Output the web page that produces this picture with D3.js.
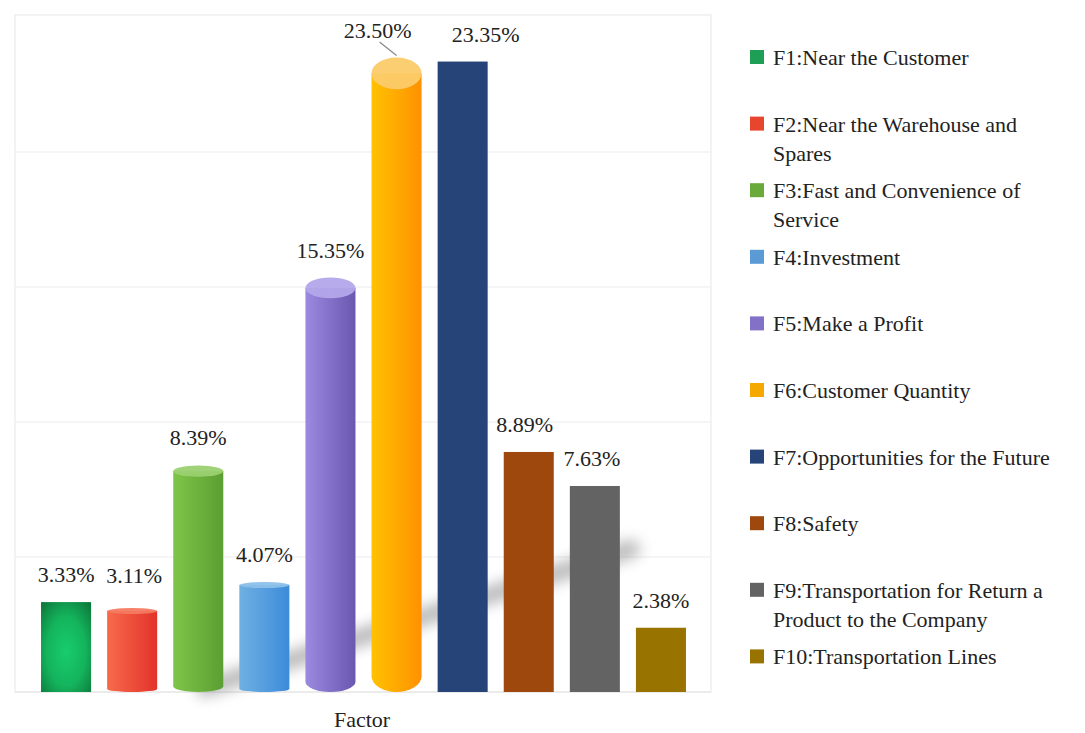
<!DOCTYPE html>
<html>
<head>
<meta charset="utf-8">
<script src="https://cdn.jsdelivr.net/npm/d3@7"></script>
<style>
  html, body { margin: 0; padding: 0; background: #fff; }
  svg { display: block; }
</style>
</head>
<body>
<svg id="chart" width="1085" height="733"></svg>
<script>
// Share of each location factor (%)
const factors = ["F1", "F2", "F3", "F4", "F5", "F6", "F7", "F8", "F9", "F10"];
const shares = [3.33, 3.11, 8.39, 4.07, 15.35, 23.50, 23.35, 8.89, 7.63, 2.38];
const legendLines = [
  ["F1:Near the Customer"],
  ["F2:Near the Warehouse and", "Spares"],
  ["F3:Fast and Convenience of", "Service"],
  ["F4:Investment"],
  ["F5:Make a Profit"],
  ["F6:Customer Quantity"],
  ["F7:Opportunities for the Future"],
  ["F8:Safety"],
  ["F9:Transportation for Return a", "Product to the Company"],
  ["F10:Transportation Lines"]
];
const gridTicks = [0, 5, 10, 15, 20, 25];
const axisTitle = "Factor";

// Bar styling: cylinders get side gradients, flat bars a plain or radial fill
const styles = [
  { kind: "flat", light: "#18cc6c", dark: "#0d7a3d", radial: true, key: "#1f9e55" },
  { kind: "cyl", light: "#f86a4c", dark: "#e2332a", top: "#f47a60", key: "#e8452f" },
  { kind: "cyl", light: "#80c54a", dark: "#5b9e32", top: "#9bd070", key: "#6aaa3a" },
  { kind: "cyl", light: "#6fb0e2", dark: "#3c8bda", top: "#8cc0ea", key: "#5b9bd5" },
  { kind: "cyl", light: "#9c89e0", dark: "#6a58b0", top: "#b4a6ea", key: "#8371c8" },
  { kind: "cyl", light: "#ffc200", dark: "#ff9100", top: "#fccb6a", key: "#f5a800" },
  { kind: "flat", light: "#264478", dark: "#264478", key: "#264478" },
  { kind: "flat", light: "#9e480e", dark: "#9e480e", key: "#9e480e" },
  { kind: "flat", light: "#636363", dark: "#636363", key: "#636363" },
  { kind: "flat", light: "#997300", dark: "#997300", key: "#997300" }
];

const FONT = "Liberation Serif";
const svg = d3.select("#chart");
const plot = { left: 15, right: 711, top: 15, bottom: 692 };

const x = d3.scaleBand().domain(factors).range([33, 694]).padding(0);
const barW = x.bandwidth() * 0.757;
const y = d3.scaleLinear().domain([0, 25]).range([plot.bottom, 17]);

const defs = svg.append("defs");
styles.forEach((s, i) => {
  if (s.radial) {
    const g = defs.append("radialGradient").attr("id", "g" + i)
      .attr("cx", "50%").attr("cy", "55%").attr("r", "70%");
    g.append("stop").attr("offset", "0%").attr("stop-color", s.light);
    g.append("stop").attr("offset", "55%").attr("stop-color", "#14b45c");
    g.append("stop").attr("offset", "100%").attr("stop-color", s.dark);
  } else {
    const g = defs.append("linearGradient").attr("id", "g" + i)
      .attr("x1", "0%").attr("x2", "100%").attr("y1", "0%").attr("y2", "0%");
    g.append("stop").attr("offset", "0%").attr("stop-color", s.light);
    g.append("stop").attr("offset", "100%").attr("stop-color", s.dark);
  }
});
defs.append("filter").attr("id", "soft").attr("x", "-20%").attr("y", "-50%")
  .attr("width", "140%").attr("height", "200%")
  .append("feGaussianBlur").attr("stdDeviation", 7);

// Frame and gridlines
svg.append("rect")
  .attr("x", plot.left).attr("y", plot.top)
  .attr("width", plot.right - plot.left).attr("height", plot.bottom - plot.top)
  .attr("fill", "#fff").attr("stroke", "#ececec").attr("stroke-width", 1.2);

svg.append("g").selectAll("line").data(gridTicks.slice(1, -1)).join("line")
  .attr("x1", plot.left).attr("x2", plot.right)
  .attr("y1", d => y(d)).attr("y2", d => y(d))
  .attr("stroke", "#ebebeb").attr("stroke-width", 1.2);
svg.append("line")
  .attr("x1", plot.left).attr("x2", plot.right)
  .attr("y1", y(0)).attr("y2", y(0))
  .attr("stroke", "#e4e4e4").attr("stroke-width", 1.2);

// Soft cast shadow behind the bars
svg.append("line")
  .attr("x1", x("F3") + x.bandwidth() * 0.6).attr("y1", y(0) - 4)
  .attr("x2", x("F9") + x.bandwidth() * 1.05).attr("y2", y(5.3))
  .attr("stroke", "#8f8f8f").attr("stroke-width", 18).attr("stroke-linecap", "round")
  .attr("opacity", 0.6).attr("filter", "url(#soft)");

// Bars
const bars = svg.append("g");
factors.forEach((f, i) => {
  const s = styles[i];
  const cx = x(f) + x.bandwidth() / 2;
  const x0 = cx - barW / 2;
  const top = y(shares[i]);
  const base = y(0);
  if (s.kind === "flat") {
    bars.append("rect")
      .attr("x", x0).attr("y", top).attr("width", barW).attr("height", base - top)
      .attr("fill", `url(#g${i})`);
  } else {
    const rx = barW / 2;
    const ry = Math.max(3, 0.025 * (base - top));
    const yt = top + ry, yb = base - ry;
    bars.append("path")
      .attr("d", `M${x0},${yt} L${x0},${yb} A${rx},${ry} 0 0 0 ${x0 + barW},${yb} L${x0 + barW},${yt} Z`)
      .attr("fill", `url(#g${i})`);
    bars.append("ellipse")
      .attr("cx", cx).attr("cy", yt).attr("rx", rx).attr("ry", ry)
      .attr("fill", s.top).attr("opacity", 0.95);
  }
});

// Value labels
const labelDx = { F2: 2, F6: -19, F7: 23, F8: -4, F9: -3 };
svg.append("g").selectAll("text").data(factors).join("text")
  .attr("font-family", FONT)
  .attr("font-size", 22).attr("text-anchor", "middle").attr("fill", "#222")
  .attr("x", f => x(f) + x.bandwidth() / 2 + (labelDx[f] || 0))
  .attr("y", (f, i) => Math.max(y(shares[i]) - 20, 33) - (f === "F2" ? 5 : 0))
  .text((f, i) => shares[i].toFixed(2) + "%");

// Leader line for the displaced F6 label
svg.append("line")
  .attr("x1", x("F6") + x.bandwidth() / 2 - 17).attr("y1", 42)
  .attr("x2", x("F6") + x.bandwidth() / 2).attr("y2", y(shares[5]) - 2)
  .attr("stroke", "#888").attr("stroke-width", 1.2);

// Axis title
svg.append("text")
  .attr("font-family", FONT)
  .attr("font-size", 22).attr("text-anchor", "middle").attr("fill", "#222")
  .attr("x", 362).attr("y", 727)
  .text(axisTitle);

// Legend
const ly0 = 57, lstep = 66.6;
const legend = svg.append("g");
legendLines.forEach((lines, i) => {
  const cy = ly0 + i * lstep;
  legend.append("rect")
    .attr("x", 750).attr("y", cy - 7).attr("width", 14).attr("height", 14)
    .attr("fill", styles[i].key);
  lines.forEach((t, k) => {
    legend.append("text")
      .attr("font-family", FONT)
      .attr("font-size", 22).attr("fill", "#222")
      .attr("x", 773).attr("y", cy + 8 + k * 29)
      .text(t);
  });
});
</script>
</body>
</html>
